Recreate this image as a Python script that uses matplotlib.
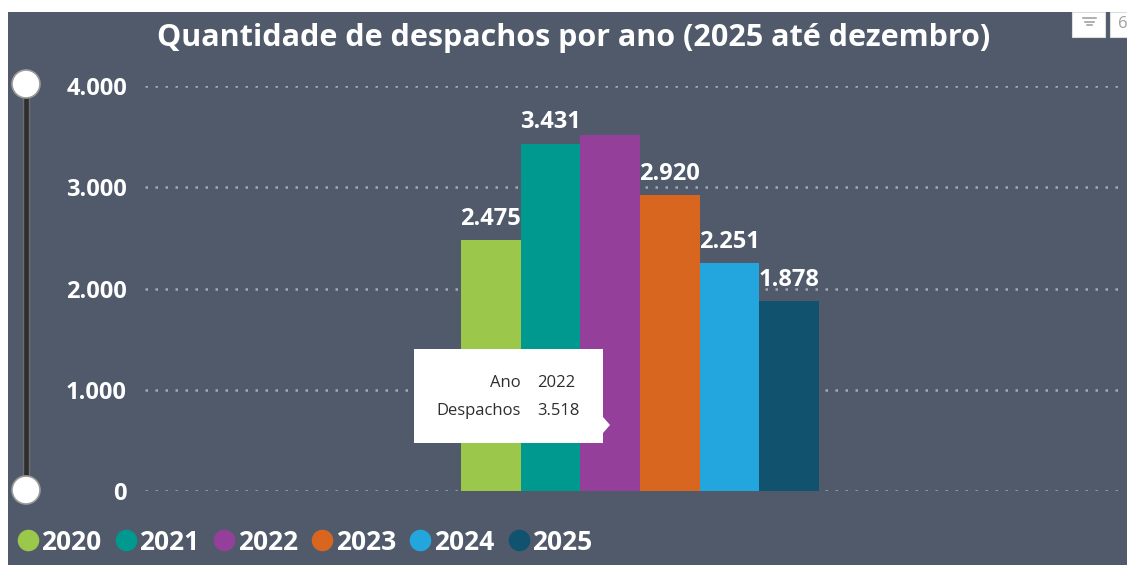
import matplotlib
matplotlib.use("Agg")
import matplotlib.pyplot as plt
from matplotlib.patches import Rectangle, Circle, Polygon
from matplotlib.lines import Line2D

plt.rcParams['font.family'] = ['Open Sans', 'DejaVu Sans']

# ---- data ----
years = ["2020", "2021", "2022", "2023", "2024", "2025"]
despachos = [2475, 3431, 3518, 2920, 2251, 1878]
label_shown = [True, True, False, True, True, True]
y_ticks = [0, 1000, 2000, 3000, 4000]
y_tick_labels = ["0", "1.000", "2.000", "3.000", "4.000"]
title = "Quantidade de despachos por ano (2025 até dezembro)"
tooltip_keys = ["Ano", "Despachos"]
tooltip_vals = ["2022", "3.518"]

colors = ["#9BC84B", "#00998F", "#94409A", "#D9661F", "#23A6DD", "#11536F"]
BG = "#505A6B"

W, H = 1127, 565
fig = plt.figure(figsize=(W / 100, H / 100), dpi=100)
fig.patch.set_facecolor("white")

def px(x, y):
    """pixel (from top-left) -> inches for dpi_scale_trans"""
    return x / 100, (H - y) / 100

# dark panel
fig.add_artist(Rectangle(px(8, H), (W - 8) / 100, (H - 12) / 100,
                         transform=fig.dpi_scale_trans, facecolor=BG,
                         edgecolor="none", zorder=0))

# axes
left, right, top, bottom = 145, 1123, 86, 491
ax = fig.add_axes([left / W, 1 - bottom / H, (right - left) / W, (bottom - top) / H])
ax.set_facecolor("none")
for s in ax.spines.values():
    s.set_visible(False)

bw = (819 - 461) / 6.0
center = 640
ax.set_xlim(-(center - left) / bw, (right - center) / bw)
ax.set_ylim(0, 4000)

xs = [i - 2.5 for i in range(len(years))]
bars = ax.bar(xs, despachos, width=1.0, color=colors, zorder=3)
for x, v, show in zip(xs, despachos, label_shown):
    if show:
        ax.annotate(f"{v:,}".replace(",", "."), (x, v), xytext=(0, 11),
                    textcoords="offset points", ha="center", va="baseline",
                    color="white", fontsize=17, fontweight="bold", zorder=5)

ax.set_yticks(y_ticks)
ax.set_yticklabels(y_tick_labels)
ax.tick_params(axis="y", length=0, pad=13, labelsize=17, labelcolor="white")
for lab in ax.get_yticklabels():
    lab.set_fontweight("bold")
ax.set_xticks([])
ax.yaxis.grid(True, color="#A3AAB6", linestyle=(0, (1, 3)), linewidth=1.8, zorder=1)
ax.set_axisbelow(True)

# title
fig.text(574 / W, 1 - 38 / H, title, ha="center", va="center", color="white",
         fontsize=22, fontweight="bold")

# slider on the left
fig.add_artist(Rectangle(px(23, 490), 6 / 100, (490 - 85) / 100,
                         transform=fig.dpi_scale_trans, facecolor="#2E2E2E",
                         edgecolor="#6E6E6E", linewidth=1, zorder=2))
for cy in (84, 490):
    fig.add_artist(Circle(px(26, cy), 14 / 100, transform=fig.dpi_scale_trans,
                          facecolor="white", edgecolor="#9A9A9A", linewidth=1.2, zorder=3))

# top-right icon boxes
fig.add_artist(Rectangle(px(1072, 37), 33 / 100, 25 / 100, transform=fig.dpi_scale_trans,
                         facecolor="white", edgecolor="#DDDDDD", linewidth=0.8, zorder=3))
for i, (x0, x1) in enumerate([(1083, 1096), (1085, 1094), (1087, 1092)]):
    y = 18 + i * 3.5
    fig.add_artist(Line2D([x0 / 100, x1 / 100], [(H - y) / 100] * 2,
                          transform=fig.dpi_scale_trans, color="#9A9A9A", linewidth=1.1, zorder=4))
fig.add_artist(Rectangle(px(1110, 37), 20 / 100, 25 / 100, transform=fig.dpi_scale_trans,
                         facecolor="white", edgecolor="#DDDDDD", linewidth=0.8, zorder=3))
fig.text(1118 / W, 1 - 24 / H, "6", color="#A0A0A0", fontsize=12, ha="left", va="center", zorder=5)

# tooltip
fig.add_artist(Rectangle(px(414, 443), (603 - 414) / 100, (443 - 349) / 100,
                         transform=fig.dpi_scale_trans, facecolor="white",
                         edgecolor="none", zorder=6))
fig.add_artist(Polygon([px(603, 417), px(610, 425), px(603, 433)], closed=True,
                       transform=fig.dpi_scale_trans, facecolor="white",
                       edgecolor="none", zorder=6))
for i, (k, v) in enumerate(zip(tooltip_keys, tooltip_vals)):
    yy = 383 + i * 28
    fig.text(521 / W, 1 - yy / H, k, ha="right", va="center", color="#2E2E2E",
             fontsize=12, zorder=7)
    fig.text(537 / W, 1 - yy / H, v, ha="left", va="center", color="#2E2E2E",
             fontsize=12, zorder=7)

# legend
handles = [Line2D([], [], marker="o", linestyle="none", markersize=14.5,
                  markerfacecolor=c, markeredgecolor=c) for c in colors]
leg = fig.legend(handles, years, loc="center left", bbox_to_anchor=(17 / W, 1 - 542 / H),
                 ncol=6, frameon=False, borderpad=0, borderaxespad=0,
                 handlelength=0.8, handletextpad=0.12, columnspacing=0.52,
                 prop={"weight": "bold", "size": 19})
for t in leg.get_texts():
    t.set_color("white")

fig.savefig("out.png", dpi=100, facecolor=fig.get_facecolor())
